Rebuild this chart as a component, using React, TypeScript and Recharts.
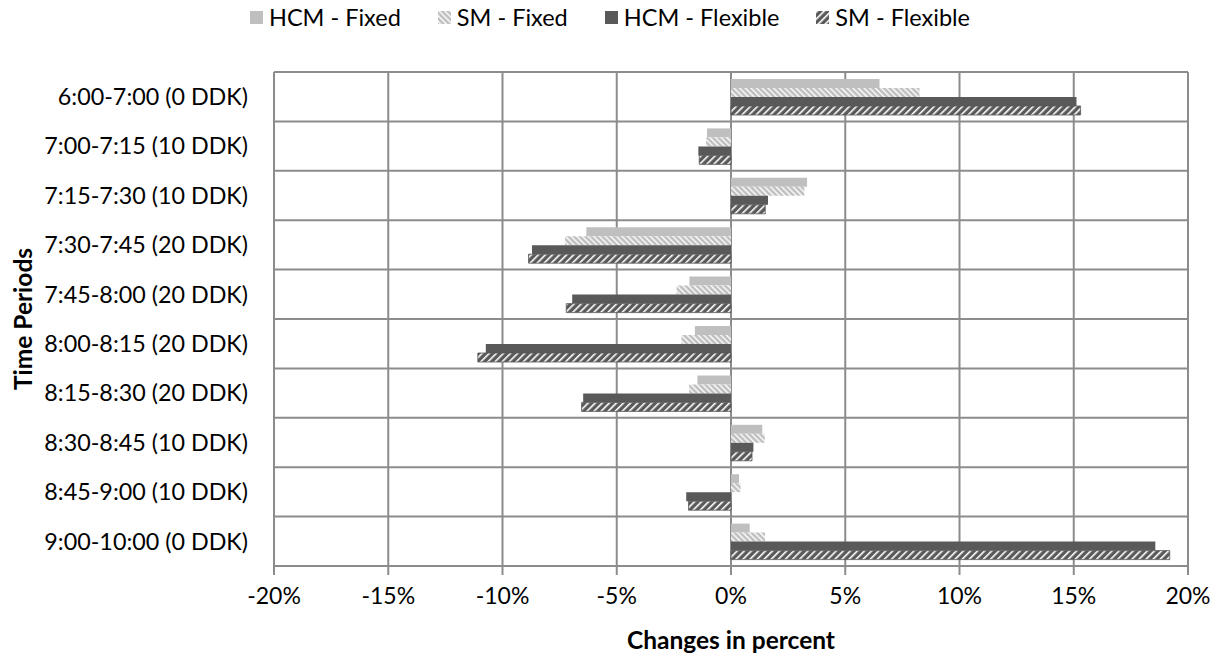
import React from "react"
import { Bar, BarChart, CartesianGrid, XAxis, YAxis } from "recharts"

const periods = [
    "6:00-7:00 (0 DDK)",
    "7:00-7:15 (10 DDK)",
    "7:15-7:30 (10 DDK)",
    "7:30-7:45 (20 DDK)",
    "7:45-8:00 (20 DDK)",
    "8:00-8:15 (20 DDK)",
    "8:15-8:30 (20 DDK)",
    "8:30-8:45 (10 DDK)",
    "8:45-9:00 (10 DDK)",
    "9:00-10:00 (0 DDK)",
]

// changes in percent
const hcmFixed = [6.5, -1.05, 3.33, -6.33, -1.82, -1.58, -1.47, 1.37, 0.35, 0.82]
const smFixed = [8.25, -1.09, 3.21, -7.26, -2.38, -2.17, -1.83, 1.48, 0.42, 1.49]
const hcmFlexible = [15.12, -1.43, 1.62, -8.71, -6.95, -10.73, -6.47, 0.98, -1.96, 18.57]
const smFlexible = [15.3, -1.39, 1.5, -8.86, -7.21, -11.08, -6.54, 0.92, -1.86, 19.2]

const xTicks = [-20, -15, -10, -5, 0, 5, 10, 15, 20]

const data = periods.map((period, i) => ({
    period,
    hcmFixed: hcmFixed[i],
    smFixed: smFixed[i],
    hcmFlexible: hcmFlexible[i],
    smFlexible: smFlexible[i],
}))

const FONT = "Lato, 'Open Sans', sans-serif"
const LIGHT = "#bfbfbf"
const DARK = "#595959"
const GRID = "#8c8c8c"

function Patterns({ prefix }: { prefix: string }) {
    return (
        <defs>
            <pattern id={`${prefix}-smFixed`} width="4" height="4" patternUnits="userSpaceOnUse" patternTransform="rotate(-45)">
                <rect width="4" height="4" fill={LIGHT} />
                <rect width="1.4" height="4" fill="#ffffff" />
            </pattern>
            <pattern id={`${prefix}-smFlex`} width="5" height="5" patternUnits="userSpaceOnUse" patternTransform="rotate(45)">
                <rect width="5" height="5" fill={DARK} />
                <rect width="1.6" height="5" fill="#ffffff" />
            </pattern>
        </defs>
    )
}

const legendItems = [
    { name: "HCM - Fixed", fill: LIGHT },
    { name: "SM - Fixed", fill: "url(#lg-smFixed)" },
    { name: "HCM - Flexible", fill: DARK },
    { name: "SM - Flexible", fill: "url(#lg-smFlex)" },
]

function Legend() {
    return (
        <div
            style={{
                position: "absolute",
                top: 3,
                left: 0,
                width: 1220,
                display: "flex",
                justifyContent: "center",
                gap: 37,
                fontFamily: FONT,
                fontSize: 23.5,
                color: "#000",
            }}
        >
            <svg width="0" height="0" style={{ position: "absolute" }}>
                <Patterns prefix="lg" />
            </svg>
            {legendItems.map((item) => (
                <div key={item.name} style={{ display: "flex", alignItems: "center", gap: 6 }}>
                    <svg width="13" height="13">
                        <rect width="13" height="13" fill={item.fill} />
                    </svg>
                    <span>{item.name}</span>
                </div>
            ))}
        </div>
    )
}

export default function App() {
    const rows = periods.length
    return (
        <div style={{ position: "absolute", left: 0, top: 0, width: 1220, height: 657, background: "#fff" }}>
            <Legend />
            <BarChart
                width={1220}
                height={657}
                data={data}
                layout="vertical"
                margin={{ top: 72, right: 32, bottom: 0, left: 0 }}
                barSize={9}
                barGap={0}
            >
                <Patterns prefix="ch" />
                <CartesianGrid
                    stroke={GRID}
                    strokeWidth={2}
                    horizontalCoordinatesGenerator={({ offset }: any) =>
                        Array.from({ length: rows + 1 }, (_, i) => offset.top + (i * offset.height) / rows)
                    }
                />
                <XAxis
                    type="number"
                    domain={[-20, 20]}
                    ticks={xTicks}
                    tickFormatter={(v) => `${v}%`}
                    axisLine={false}
                    tickLine={{ stroke: GRID, strokeWidth: 2 }}
                    tickSize={9}
                    tickMargin={13}
                    height={91}
                    tick={{ fill: "#000", fontSize: 23, fontFamily: FONT }}
                    label={({ viewBox }: any) => (
                        <text
                            x={viewBox.x + viewBox.width / 2}
                            y={viewBox.y + 83}
                            textAnchor="middle"
                            fontFamily={FONT}
                            fontSize={24.5}
                            fontWeight="bold"
                            fill="#000"
                        >
                            Changes in percent
                        </text>
                    )}
                />
                <YAxis
                    type="category"
                    dataKey="period"
                    width={274}
                    axisLine={false}
                    tickLine={false}
                    tickSize={0}
                    tickMargin={26}
                    interval={0}
                    tick={{ fill: "#000", fontSize: 23.3, fontFamily: FONT }}
                    label={({ viewBox }: any) => {
                        const cx = viewBox.x + 22
                        const cy = viewBox.y + viewBox.height / 2
                        return (
                            <text
                                x={cx}
                                y={cy}
                                transform={`rotate(-90 ${cx} ${cy})`}
                                textAnchor="middle"
                                dominantBaseline="central"
                                fontFamily={FONT}
                                fontSize={24.5}
                                fontWeight="bold"
                                fill="#000"
                            >
                                Time Periods
                            </text>
                        )
                    }}
                />
                <Bar dataKey="hcmFixed" name="HCM - Fixed" fill={LIGHT} isAnimationActive={false} />
                <Bar dataKey="smFixed" name="SM - Fixed" fill="url(#ch-smFixed)" isAnimationActive={false} />
                <Bar dataKey="hcmFlexible" name="HCM - Flexible" fill={DARK} isAnimationActive={false} />
                <Bar
                    dataKey="smFlexible"
                    name="SM - Flexible"
                    fill="url(#ch-smFlex)"
                    stroke={DARK}
                    strokeWidth={0.8}
                    isAnimationActive={false}
                />
            </BarChart>
        </div>
    )
}
